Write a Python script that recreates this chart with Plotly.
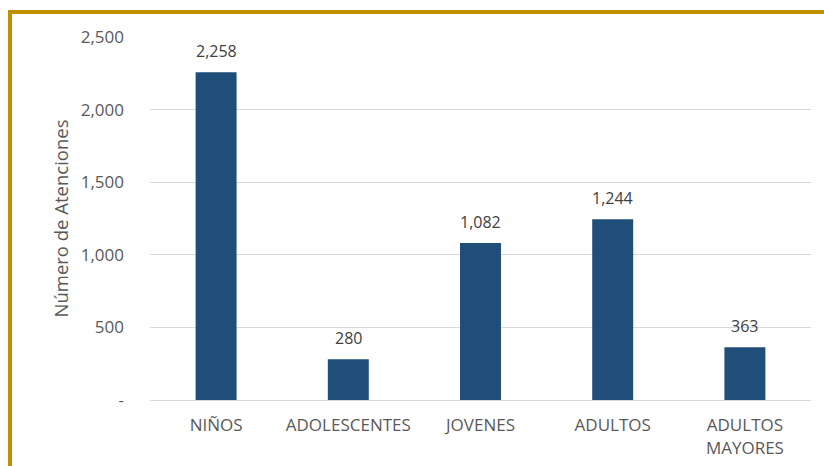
import plotly.graph_objects as go

categories = ["NIÑOS", "ADOLESCENTES", "JOVENES", "ADULTOS", "ADULTOS<br>MAYORES"]
values = [2258, 280, 1082, 1244, 363]
tick_vals = [0, 500, 1000, 1500, 2000, 2500]
tick_text = ["-", "500", "1,000", "1,500", "2,000", "2,500"]

W, H = 824, 466
ML, MR, MT, MB = 150, 13, 37, 66
FONT = "Open Sans"

fig = go.Figure()
fig.add_trace(go.Bar(
    x=categories, y=values,
    marker=dict(color="#1F4E79", line=dict(width=0)),
    width=0.31,
    hoverinfo="skip",
))

for c, v in zip(categories, values):
    fig.add_annotation(x=c, y=v, text=f"{v:,}", showarrow=False,
                       yanchor="middle", yshift=21,
                       font=dict(family=FONT, size=16, color="#404040"))

pw = W - ML - MR
ph = H - MT - MB
def px_x(p):
    return (p - ML) / pw
def px_y(p):
    return (H - MB - p) / ph

gold = "#BF9000"
fig.add_shape(type="line", xref="paper", yref="paper",
              x0=px_x(10), x1=px_x(10), y0=px_y(10), y1=px_y(480),
              line=dict(color=gold, width=4))
fig.add_shape(type="line", xref="paper", yref="paper",
              x0=px_x(8), x1=px_x(840), y0=px_y(12), y1=px_y(12),
              line=dict(color=gold, width=4))

fig.update_layout(
    width=W, height=H,
    margin=dict(l=ML, r=MR, t=MT, b=MB, autoexpand=False),
    paper_bgcolor="white", plot_bgcolor="white",
    showlegend=False,
    font=dict(family=FONT, color="#595959"),
    xaxis=dict(
        automargin=False,
        showgrid=False, showline=True, linecolor="#D9D9D9", linewidth=1,
        ticks="", tickfont=dict(family=FONT, size=17, color="#595959"),
        ticklabelstandoff=10,
    ),
    yaxis=dict(
        automargin=False,
        range=[0, 2500], tickvals=tick_vals, ticktext=tick_text,
        showgrid=True, gridcolor="#D9D9D9", gridwidth=1,
        zeroline=False, showline=False, ticks="",
        tickfont=dict(family=FONT, size=17, color="#595959"),
        ticklabelstandoff=25,
        title=dict(text="Número de Atenciones", standoff=7,
                   font=dict(family=FONT, size=18.5, color="#595959")),
    ),
)

fig.write_html("out.html")
